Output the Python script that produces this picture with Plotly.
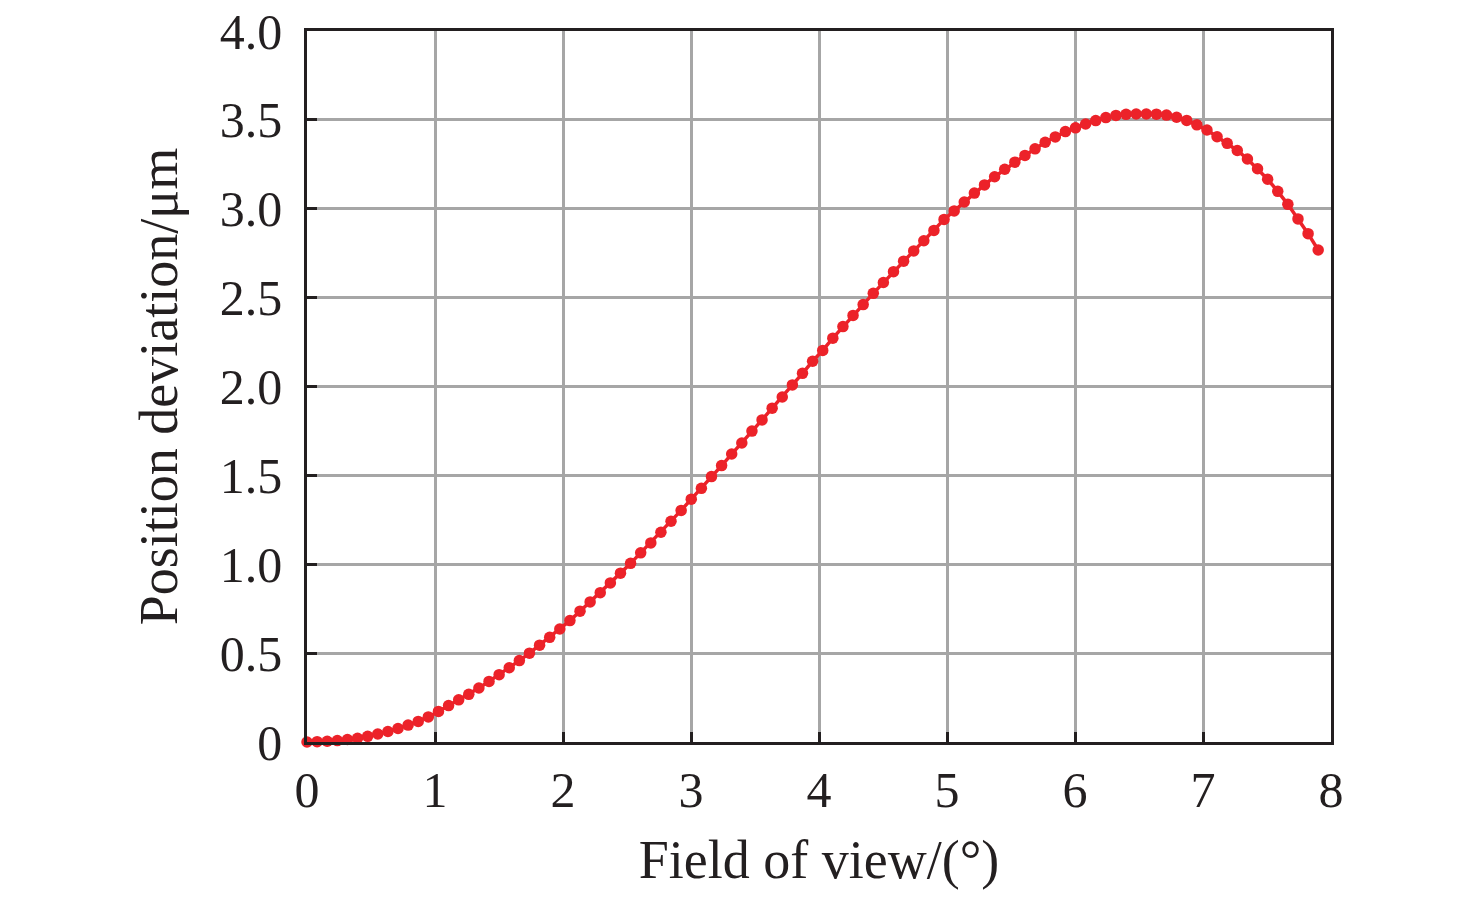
import plotly.graph_objects as go

field_of_view = [
    0.000, 0.079, 0.158, 0.237, 0.316, 0.395, 0.474, 0.553, 0.632, 0.711,
    0.790, 0.869, 0.948, 1.027, 1.106, 1.185, 1.264, 1.343, 1.422, 1.501,
    1.580, 1.659, 1.738, 1.817, 1.896, 1.975, 2.054, 2.133, 2.212, 2.291,
    2.370, 2.449, 2.528, 2.607, 2.686, 2.765, 2.844, 2.923, 3.002, 3.081,
    3.160, 3.239, 3.318, 3.397, 3.476, 3.555, 3.634, 3.713, 3.792, 3.871,
    3.950, 4.029, 4.108, 4.187, 4.266, 4.345, 4.424, 4.503, 4.582, 4.661,
    4.740, 4.819, 4.898, 4.977, 5.056, 5.135, 5.214, 5.293, 5.372, 5.451,
    5.530, 5.609, 5.688, 5.767, 5.846, 5.925, 6.004, 6.083, 6.162, 6.241,
    6.320, 6.399, 6.478, 6.557, 6.636, 6.715, 6.794, 6.873, 6.952, 7.031,
    7.110, 7.189, 7.268, 7.347, 7.426, 7.505, 7.584, 7.663, 7.742, 7.821,
    7.900,
]

position_deviation = [
    0.000, 0.002, 0.004, 0.008, 0.014, 0.021, 0.032, 0.045, 0.059, 0.076,
    0.095, 0.116, 0.141, 0.172, 0.205, 0.237, 0.268, 0.304, 0.341, 0.379,
    0.418, 0.458, 0.500, 0.545, 0.589, 0.636, 0.683, 0.736, 0.788, 0.840,
    0.895, 0.950, 1.005, 1.064, 1.120, 1.180, 1.242, 1.303, 1.366, 1.427,
    1.493, 1.555, 1.620, 1.682, 1.749, 1.812, 1.878, 1.941, 2.009, 2.074,
    2.142, 2.203, 2.272, 2.337, 2.400, 2.461, 2.524, 2.585, 2.646, 2.705,
    2.763, 2.820, 2.878, 2.940, 2.988, 3.038, 3.088, 3.134, 3.180, 3.222,
    3.262, 3.300, 3.337, 3.374, 3.404, 3.434, 3.455, 3.477, 3.496, 3.513,
    3.525, 3.531, 3.533, 3.533, 3.532, 3.527, 3.515, 3.497, 3.472, 3.443,
    3.405, 3.368, 3.328, 3.280, 3.225, 3.166, 3.098, 3.025, 2.943, 2.860,
    2.768,
]

x_ticks = [0, 1, 2, 3, 4, 5, 6, 7, 8]
y_ticks = [0, 0.5, 1.0, 1.5, 2.0, 2.5, 3.0, 3.5, 4.0]
y_tick_labels = ["0", "0.5", "1.0", "1.5", "2.0", "2.5", "3.0", "3.5", "4.0"]

RED = "#ec2229"
FONT = "Liberation Serif"
TEXT = "#231f20"

fig = go.Figure()
fig.add_trace(go.Scatter(
    x=field_of_view, y=position_deviation,
    mode="lines+markers",
    line=dict(color=RED, width=3.5),
    marker=dict(color=RED, size=11.5),
    showlegend=False,
    cliponaxis=False,
))

axis_common = dict(
    showline=True, linecolor="#231f20", linewidth=2.5, mirror=True,
    showgrid=True, gridcolor="#a6a6a6", gridwidth=2.5,
    zeroline=False, automargin=False,
    ticks="inside", ticklen=10, tickwidth=2.5, tickcolor="#231f20",
    tickfont=dict(family=FONT, size=50, color=TEXT),
    ticklabeloverflow="allow",
)

fig.update_xaxes(
    range=[0, 8], tickvals=x_ticks, ticktext=[str(v) for v in x_ticks],
    title=dict(text="Field of view/(°)", font=dict(family=FONT, size=54, color=TEXT), standoff=24),
    ticklabelstandoff=2,
    **axis_common,
)
fig.update_yaxes(
    range=[0, 4], tickvals=y_ticks, ticktext=y_tick_labels,
    title=dict(text="Position deviation/μm", font=dict(family=FONT, size=54, color=TEXT), standoff=25),
    ticklabelstandoff=12,
    **axis_common,
)

fig.update_layout(
    width=1476, height=897,
    margin=dict(l=299, r=153, t=23, b=163),
    plot_bgcolor="white", paper_bgcolor="white",
)

fig.write_html("out.html")
